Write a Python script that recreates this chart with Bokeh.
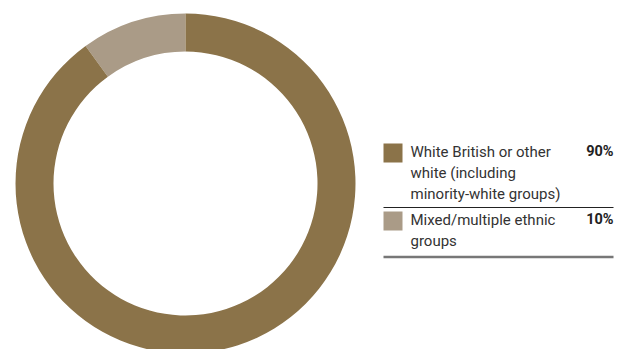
import numpy as np
from bokeh.plotting import figure
from bokeh.models import Range1d, ColumnDataSource
from bokeh.core.properties import value
from bokeh.embed import file_html
from bokeh.resources import INLINE

categories = ["Mixed/multiple ethnic\ngroups", "White British or other\nwhite (including\nminority-white groups)"]
shares = [10, 90]
labels = ["10%", "90%"]
colors = ["#AA9B87", "#8B7349"]

W, H = 626, 349
p = figure(width=W, height=H, x_range=Range1d(0, W), y_range=Range1d(0, H),
           output_backend="svg", toolbar_location=None, min_border=0)
p.axis.visible = False
p.grid.visible = False
p.outline_line_color = None
p.background_fill_color = "white"
p.border_fill_color = "white"

# donut
cx, cy = 185, H - 183
frac = np.array(shares) / np.sum(shares)
ends = np.pi / 2 + np.cumsum(frac) * 2 * np.pi
starts = ends - frac * 2 * np.pi
src = ColumnDataSource(dict(start=starts, end=ends, color=colors))
p.annular_wedge(x=cx, y=cy, inner_radius=132, outer_radius=170,
                start_angle="start", end_angle="end", direction="anticlock",
                fill_color="color", line_color=None, source=src)

# legend (ordered largest first)
order = [1, 0]
row_tops = [143, 211]
sep_ys = [207, 256.5]
sep_colors = ["#222222", "#777777"]
sep_widths = [1.2, 2.5]
for i, k in enumerate(order):
    top = row_tops[i]
    p.rect(x=392.5, y=H - (top + 9.5), width=19, height=19, fill_color=colors[k], line_color=None)
    p.text(x=[410], y=[H - top + 1], text=[categories[k]], text_font=value("Roboto"),
           text_font_size="15px", text_color="#333333", text_baseline="top",
           text_line_height=1.17)
    p.text(x=[613], y=[H - top + 1], text=[labels[k]], text_font=value("Roboto"),
           text_font_size="14.5px", text_font_style="bold", text_color="#222222",
           text_baseline="top", text_align="right")
    p.line(x=[383, 613], y=[H - sep_ys[i]] * 2, line_color=sep_colors[i], line_width=sep_widths[i])

open("out.html", "w").write(file_html(p, INLINE))
